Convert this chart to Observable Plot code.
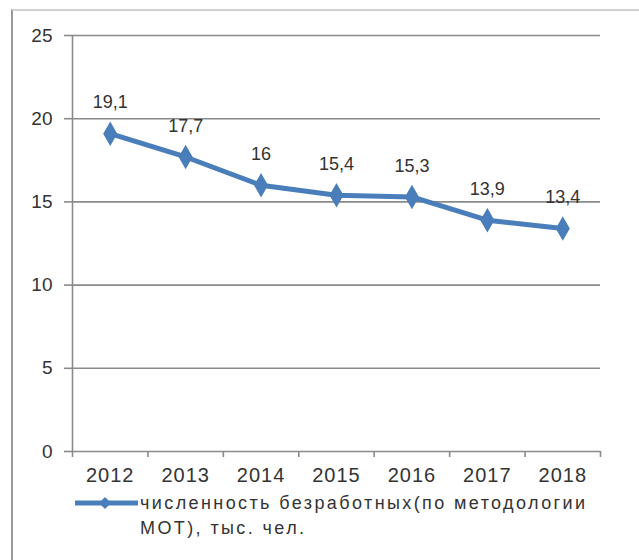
<!DOCTYPE html>
<html><head><meta charset="utf-8">
<script src="https://cdn.jsdelivr.net/npm/d3@7"></script>
<script src="https://cdn.jsdelivr.net/npm/@observablehq/plot@0.6"></script>
<style>
body{margin:0;background:#fff;font-family:"Liberation Sans",Arial,sans-serif;}
#wrap{position:relative;width:639px;height:560px;overflow:hidden;}
#frame{position:absolute;left:11px;top:9px;width:700px;height:600px;border-left:2px solid #9a9a9a;border-top:2px solid #d0d0d0;pointer-events:none;}
#chart{position:absolute;left:0;top:0;}
#legend{position:absolute;left:74px;top:491px;width:540px;display:flex;align-items:flex-start;color:#333;font-size:18px;letter-spacing:2.4px;line-height:25px;}
#legend svg{flex:none;margin-top:0px;}
#legend span{width:470px;}
.yrs text{letter-spacing:1px;}
</style></head>
<body>
<div id="wrap"><div id="chart"></div><div id="frame"></div><div id="legend"></div></div>
<script>
const years = [2012, 2013, 2014, 2015, 2016, 2017, 2018];
const values = [19.1, 17.7, 16, 15.4, 15.3, 13.9, 13.4];
const labels = ["19,1", "17,7", "16", "15,4", "15,3", "13,9", "13,4"];
const yTicks = [0, 5, 10, 15, 20, 25];
const seriesName = "численность безработных(по методологии МОТ), тыс. чел.";
const color = "#4a7ebb";

const data = years.map((y, i) => ({year: y, value: values[i], label: labels[i]}));
const bounds = years.map(y => y - 0.5).concat([years[years.length - 1] + 0.5]);

const chart = Plot.plot({
  width: 639,
  height: 490,
  marginLeft: 72,
  marginRight: 39,
  marginTop: 35,
  marginBottom: 39,
  style: {fontFamily: '"Liberation Sans", Arial, sans-serif', fontSize: "18px", color: "#333", background: "transparent"},
  x: {type: "linear", domain: [bounds[0], bounds[bounds.length - 1]]},
  y: {domain: [0, 25]},
  marks: [
    Plot.gridY(yTicks, {stroke: "#8a8a8a", strokeOpacity: 1, strokeWidth: 1.6}),
    Plot.axisY({ticks: yTicks, tickSize: 8, tickPadding: 12, stroke: "#8a8a8a", strokeWidth: 1.6, label: null, fill: "#333", fontSize: 19}),
    Plot.ruleX([bounds[0]], {stroke: "#8a8a8a", strokeWidth: 1.6}),
    Plot.axisX({ticks: bounds, tickSize: 6, tickFormat: () => "", stroke: "#8a8a8a", strokeWidth: 1.6, label: null}),
    Plot.axisX({ticks: years, tickSize: 0, tickPadding: 16, tickFormat: d => String(d), label: null, fill: "#333", fontSize: 20, className: "yrs"}),
    Plot.line(data, {x: "year", y: "value", stroke: color, strokeWidth: 5}),
    Plot.dot(data, {x: "year", y: "value", symbol: "diamond", r: 6.5, fill: color, stroke: color}),
    Plot.text(data, {x: "year", y: "value", text: "label", dy: -31, fill: "#333", fontSize: 18})
  ]
});
document.getElementById("chart").appendChild(chart);

const leg = document.getElementById("legend");
leg.innerHTML = `<svg width="66" height="24"><line x1="1" y1="12" x2="64" y2="12" stroke="${color}" stroke-width="5"/><path d="M31,6 L37,12 L31,18 L25,12 Z" fill="${color}"/></svg><span>${seriesName}</span>`;
</script>
</body></html>
